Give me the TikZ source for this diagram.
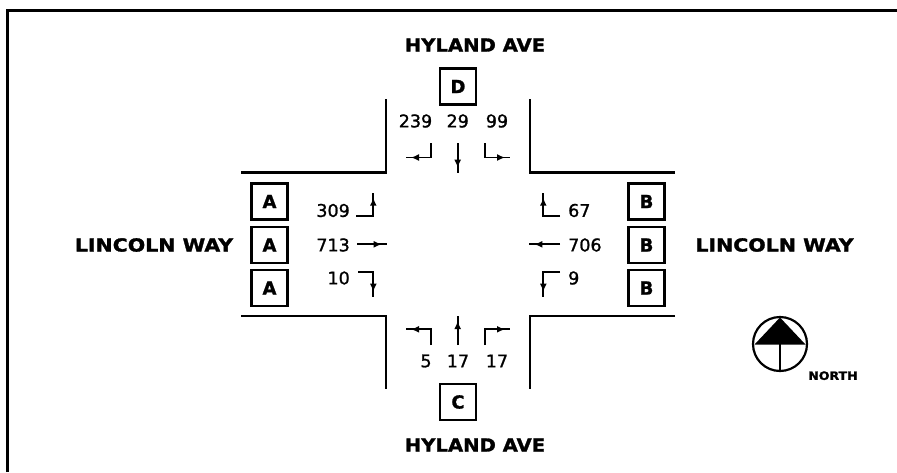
\documentclass[tikz,border=0pt]{standalone}
\usepackage{fontspec}
\setmainfont{DejaVu Sans}
\newfontfamily\heavyfont[FakeBold=1.6,FakeStretch=1.09]{DejaVu Sans Bold}
\newfontfamily\widefont[FakeBold=1.6,FakeStretch=1.14]{DejaVu Sans Bold}
\newfontfamily\boxfont[FakeBold=1.2]{DejaVu Sans Bold}
\newfontfamily\numfont[FakeBold=1.2]{DejaVu Sans}
\usetikzlibrary{decorations.markings,arrows.meta}
\tikzset{
  x=1pt,y=-1pt,
  road/.style={line width=2.5pt,line join=miter},
  frameline/.style={line width=3pt},
  sig/.style={draw,line width=2.3pt,minimum width=36pt,minimum height=36pt,inner sep=0pt,font=\fontsize{18}{18}\boxfont},
  street/.style={inner sep=0pt,font=\fontsize{18}{18}\heavyfont},
  widestreet/.style={inner sep=0pt,font=\fontsize{18}{18}\widefont},
  cnt/.style={inner sep=0pt,font=\fontsize{17.5}{17.5}\numfont},
  mv/.style={line width=1.8pt,postaction={decorate},decoration={markings,mark=at position -5pt with {\arrow{Latex[length=8pt,width=7pt]}}}},
}
\begin{document}
\begin{tikzpicture}
\useasboundingbox (0,0) rectangle (897,472);
% frame
\draw[frameline] (7.7,472) -- (7.7,10) -- (897,10);
% roads
\draw[road] (386,99) -- (386,172.5) -- (241,172.5);
\draw[road] (530,99) -- (530,172.5) -- (675,172.5);
\draw[road] (241,316) -- (386,316) -- (386,389);
\draw[road] (675,316) -- (530,316) -- (530,389);
% street names
\node[street] (nN) at (475,45) {HYLAND AVE};
\node[street] (nS) at (475,445) {HYLAND AVE};
\node[widestreet] (nW) at (154,245) {LINCOLN WAY};
\node[widestreet] (nE) at (774.5,245) {LINCOLN WAY};
% signal boxes
\node[sig] (d) at (458,86.5) {D};
\node[sig] (c) at (458,402) {C};
\node[sig] (a1) at (269.5,201.5) {A};
\node[sig] (a2) at (269.5,245) {A};
\node[sig] (a3) at (269.5,288) {A};
\node[sig] (b1) at (646.5,201.5) {B};
\node[sig] (b2) at (646.5,245) {B};
\node[sig] (b3) at (646.5,288) {B};
% counts
\node[cnt] (n1) at (415.5,121) {239};
\node[cnt] (n2) at (457.7,121) {29};
\node[cnt] (n3) at (497,121) {99};
\node[cnt,anchor=east] (w1) at (350,210.5) {309};
\node[cnt,anchor=east] (w2) at (350,245) {713};
\node[cnt,anchor=east] (w3) at (350,278) {10};
\node[cnt,anchor=west] (e1) at (568,210.5) {67};
\node[cnt,anchor=west] (e2) at (568,245) {706};
\node[cnt,anchor=west] (e3) at (568,278) {9};
\node[cnt] (s1) at (426,361) {5};
\node[cnt] (s2) at (458,361) {17};
\node[cnt] (s3) at (497,361) {17};
% movement arrows
\draw[mv] (431,143) -- (431,157.5) -- (406,157.5);
\draw[mv] (457.7,143) -- (457.7,172.7);
\draw[mv] (485,143) -- (485,157.5) -- (510,157.5);
\draw[mv] (356,215.7) -- (373.3,215.7) -- (373.3,192.7);
\draw[mv] (357,244.3) -- (386.7,244.3);
\draw[mv] (358,271.7) -- (373.3,271.7) -- (373.3,296.7);
\draw[mv] (560,216) -- (543.3,216) -- (543.3,192.7);
\draw[mv] (560,244.3) -- (529.3,244.3);
\draw[mv] (560,271.7) -- (543.3,271.7) -- (543.3,296.7);
\draw[mv] (431,345) -- (431,329.3) -- (406,329.3);
\draw[mv] (457.7,345) -- (457.7,316);
\draw[mv] (485,345) -- (485,329.3) -- (510,329.3);
% north arrow
\draw[line width=2.2pt] (780,344) circle (27);
\fill (780,317.5) -- (805.5,344.5) -- (754.5,344.5) -- cycle;
\draw[line width=2.2pt] (780,344) -- (780,371);
\node[inner sep=0pt,font=\fontsize{11.5}{11.5}\heavyfont] (north) at (833,375.7) {NORTH};
\end{tikzpicture}
\end{document}
